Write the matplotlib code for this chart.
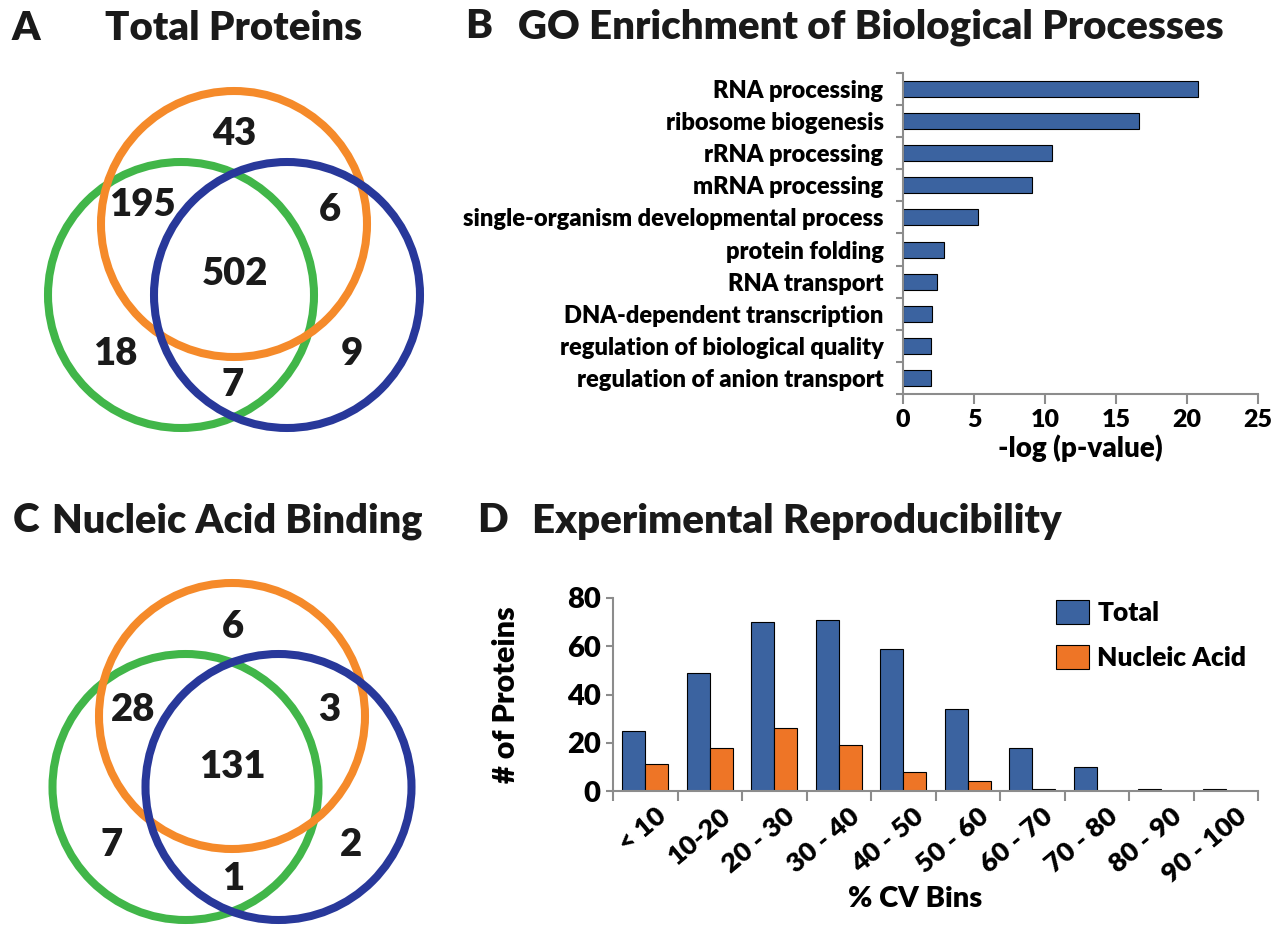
import matplotlib
matplotlib.use("Agg")
import matplotlib.pyplot as plt
from matplotlib.patches import Circle
import numpy as np

plt.rcParams['font.family'] = ['Lato', 'DejaVu Sans']
plt.rcParams['font.weight'] = 'heavy'
plt.rcParams['axes.labelweight'] = 'heavy'

# ---- data ----
venn_a_counts = [43, 195, 6, 502, 18, 9, 7]
venn_c_counts = [6, 28, 3, 131, 7, 2, 1]

go_terms = ["RNA processing", "ribosome biogenesis", "rRNA processing",
            "mRNA processing", "single-organism developmental process",
            "protein folding", "RNA transport", "DNA-dependent transcription",
            "regulation of biological quality", "regulation of anion transport"]
go_logp = [20.75, 16.6, 10.5, 9.05, 5.3, 2.9, 2.4, 2.05, 2.0, 2.0]

cv_bins = ["< 10", "10-20", "20 - 30", "30 - 40", "40 - 50", "50 - 60",
           "60 - 70", "70 - 80", "80 - 90", "90 - 100"]
cv_total = [25, 49, 70, 71, 59, 34, 18, 10, 1, 1]
cv_nucleic = [11, 18, 26, 19, 8, 4, 1, 0, 0, 0]

# ---- colours ----
ORANGE = "#F58A2A"
GREEN = "#41B649"
NAVY = "#28389A"
BAR_BLUE = "#3B63A0"
BAR_ORANGE = "#EE7526"
SPINE = "#8C8C8C"
INK = "#1a1a1a"

W, H = 1280, 936
fig = plt.figure(figsize=(W / 100, H / 100), dpi=100)

# overlay in pixel units for venns and titles
ov = fig.add_axes([0, 0, 1, 1])
ov.set_xlim(0, W)
ov.set_ylim(H, 0)
ov.axis("off")

def venn(cx, cy, dx, counts, offsets):
    r = 133
    for (x, y), c in zip([(cx - dx, cy + 24), (cx, cy - 47), (cx + dx, cy + 24)],
                         [GREEN, ORANGE, NAVY]):
        ov.add_patch(Circle((x, y), r, fill=False, ec=c, lw=5.8))
    for n, (ox, oy) in zip(counts, offsets):
        ov.text(cx + ox, cy + oy + 13, str(n), fontsize=27.5, ha="center",
                va="baseline", color=INK)

venn(234, 271, 53, venn_a_counts,
     [(0, -139), (-92, -68), (96, -63), (1, 1), (-119, 81), (118, 81), (-1, 112)])
venn(232, 763, 46.5, venn_c_counts,
     [(1, -138), (-99, -55), (97, -55), (0, 2), (-120, 80), (119, 80), (1, 114)])

tkw = dict(fontsize=29, va="center", color=INK)
ov.text(12, 29, "A", **tkw)
ov.text(234, 29, "Total Proteins", ha="center", **tkw)
ov.text(465, 27, "B", **tkw)
ov.text(518, 27, "GO Enrichment of Biological Processes", **tkw)
ov.text(13, 521, "C", **tkw)
ov.text(52, 521, "Nucleic Acid Binding", fontsize=28.5, va="center", color=INK)
ov.text(477, 521, "D", **tkw)
ov.text(532, 521, "Experimental Reproducibility", **tkw)

def style(ax):
    for s in ["top", "right"]:
        ax.spines[s].set_visible(False)
    for s in ["left", "bottom"]:
        ax.spines[s].set_color(SPINE)
        ax.spines[s].set_linewidth(1.5)
    ax.tick_params(which="major", color=SPINE, width=1.5, length=5)

# ---- B: GO enrichment ----
axb = fig.add_axes([903 / W, 1 - 394 / H, 355 / W, 321 / H])
yb = np.arange(len(go_terms))
axb.barh(yb, go_logp, height=0.5, color=BAR_BLUE, edgecolor="black", lw=0.8)
axb.set_ylim(len(go_terms) - 0.5, -0.5)
axb.set_xlim(0, 25)
style(axb)
axb.set_yticks(np.arange(-0.5, len(go_terms)), labels=[])
axb.set_yticks(yb, minor=True)
axb.set_yticklabels(go_terms, minor=True)
axb.tick_params(axis="y", which="minor", length=0, pad=14, labelsize=17)
axb.set_xticks(range(0, 26, 5))
axb.tick_params(axis="x", which="major", length=7, labelsize=18, pad=4)
axb.set_xlabel("-log (p-value)", fontsize=20, labelpad=2)

# ---- D: CV bins ----
axd = fig.add_axes([613 / W, 1 - 791 / H, 645 / W, 193 / H])
xd = np.arange(len(cv_bins))
bw = 0.36
axd.bar(xd - bw / 2, cv_total, width=bw, color=BAR_BLUE, edgecolor="black",
        lw=0.8, label="Total")
axd.bar(xd + bw / 2, cv_nucleic, width=bw, color=BAR_ORANGE, edgecolor="black",
        lw=0.8, label="Nucleic Acid")
axd.set_xlim(-0.5, len(cv_bins) - 0.5)
axd.set_ylim(0, 80)
style(axd)
axd.set_yticks(range(0, 81, 20))
axd.tick_params(axis="y", labelsize=21, pad=4)
axd.set_xticks(np.arange(-0.5, len(cv_bins)), labels=[])
axd.set_xticks(xd + 0.15, minor=True)
axd.set_xticklabels(cv_bins, minor=True, rotation=40, ha="right",
                    rotation_mode="anchor")
axd.tick_params(axis="x", which="major", length=7)
axd.tick_params(axis="x", which="minor", length=0, pad=9, labelsize=19.5)
axd.set_xlabel("% CV Bins", fontsize=21)
axd.xaxis.set_label_coords((915 - 613) / 645, -0.49)
axd.set_ylabel("# of Proteins", fontsize=22)
axd.yaxis.set_label_coords(-(613 - 520) / 645, 0.5)
axd.legend(loc="upper left", bbox_to_anchor=(1038 / W, 1 - 582 / H),
           bbox_transform=fig.transFigure, frameon=False, fontsize=19,
           handlelength=1.25, handleheight=1.0, handletextpad=0.3,
           labelspacing=0.75, borderpad=0.2)

fig.savefig("out.png", dpi=100)
